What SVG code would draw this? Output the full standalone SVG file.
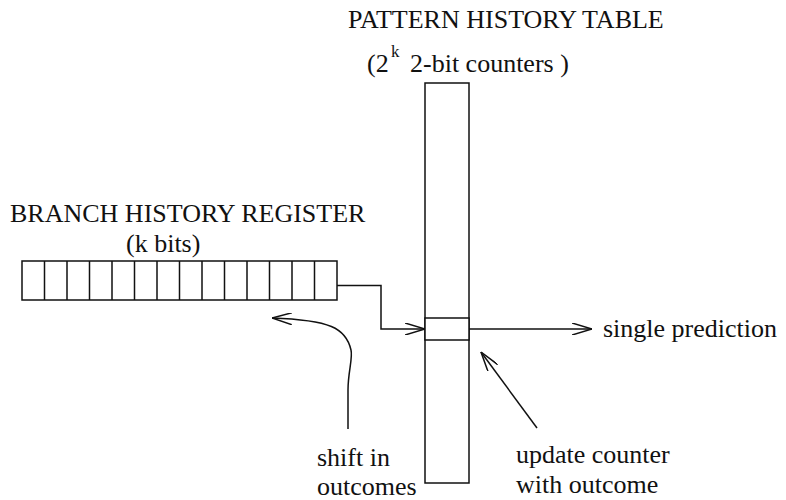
<svg xmlns="http://www.w3.org/2000/svg" width="786" height="500" viewBox="0 0 786 500">
<defs>
<style>
text{font-family:"Liberation Serif","Times New Roman","DejaVu Serif",serif;font-size:26px;fill:#111}
.sup{font-size:17px}
.ln{fill:none;stroke:#111;stroke-width:1.5}
.box{fill:#fff;stroke:#111;stroke-width:1.5}
</style>
<marker id="ah" viewBox="0 0 20 12" refX="20" refY="6" markerWidth="20" markerHeight="12" markerUnits="userSpaceOnUse" orient="auto">
<path d="M0 0 L20 6 L0 12" fill="none" stroke="#111" stroke-width="1.5"/>
</marker>
</defs>
<rect width="786" height="500" fill="#fff"/>
<g id="pht">
<text x="348" y="28">PATTERN HISTORY TABLE</text>
<text x="367" y="72">(2</text>
<text class="sup" x="391" y="57">k</text>
<text x="410" y="72">2-bit counters )</text>
<rect class="box" x="425" y="83" width="44" height="400"/>
<rect class="box" x="425" y="318" width="44" height="22"/>
</g>
<g id="bhr">
<text x="10" y="222">BRANCH HISTORY REGISTER</text>
<text x="126" y="252">(k bits)</text>
<rect class="box" x="22" y="261" width="315" height="39"/>
<path class="ln" d="M44.5 261V300M67 261V300M89.5 261V300M112 261V300M134.5 261V300M157 261V300M179.5 261V300M202 261V300M224.5 261V300M247 261V300M269.5 261V300M292 261V300M314.5 261V300"/>
</g>
<g id="labels">
<text x="603" y="337">single prediction</text>
<text x="317" y="466">shift in</text>
<text x="317" y="495">outcomes</text>
<text x="516" y="463">update counter</text>
<text x="516" y="493">with outcome</text>
</g>
<g id="connectors">
<path class="ln" d="M337 285.5H381V329H425" marker-end="url(#ah)"/>
<path class="ln" d="M469 329H592" marker-end="url(#ah)"/>
<path class="ln" d="M348 429L348 390C348 372 353 358 351 350C346 328 330 320 272 318" marker-end="url(#ah)"/>
<path class="ln" d="M537 428L481 352" marker-end="url(#ah)"/>
</g>
</svg>
